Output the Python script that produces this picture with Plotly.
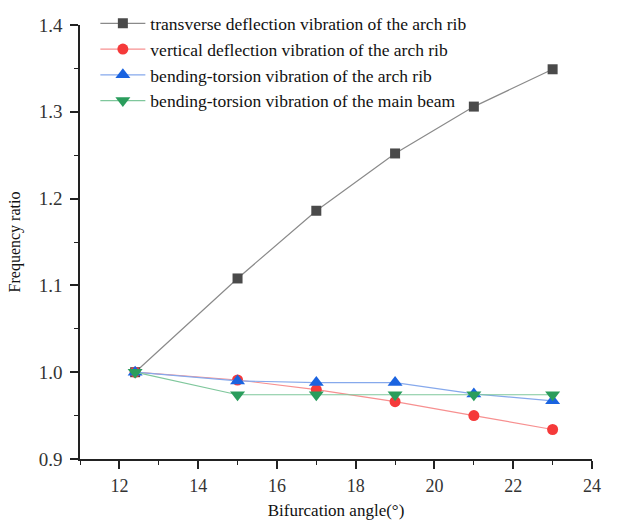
import plotly.graph_objects as go

angles = [12.4, 15, 17, 19, 21, 23]
transverse = [1.000, 1.108, 1.186, 1.252, 1.306, 1.349]
vertical = [1.000, 0.991, 0.980, 0.966, 0.950, 0.934]
bt_arch = [1.000, 0.990, 0.988, 0.988, 0.975, 0.967]
bt_beam = [1.000, 0.974, 0.974, 0.974, 0.974, 0.974]

names = [
    "transverse deflection vibration of the arch rib",
    "vertical deflection vibration of the arch rib",
    "bending-torsion vibration of the arch rib",
    "bending-torsion vibration of the main beam",
]
series = [transverse, vertical, bt_arch, bt_beam]
marker_colors = ["#4a4a4a", "#f53a3a", "#1a63e0", "#2a9d5c"]
line_colors = ["#8a8a8a", "#f79090", "#86a9ec", "#7fc79c"]
symbols = ["square", "circle", "triangle-up", "triangle-down"]
sizes = [10, 11, 13, 13]

fig = go.Figure()
for n, ys, mc, lc, s, sz in zip(names, series, marker_colors, line_colors, symbols, sizes):
    fig.add_trace(go.Scatter(
        x=angles, y=ys, name=n, mode="lines+markers",
        line=dict(color=lc, width=1.2),
        marker=dict(symbol=s, size=sz, color=mc, line=dict(width=0)),
    ))

font_family = "Liberation Serif, Times New Roman, serif"
fig.update_layout(
    width=630, height=520,
    margin=dict(l=80, r=38, t=25, b=61, autoexpand=False),
    plot_bgcolor="white", paper_bgcolor="white",
    font=dict(family=font_family, size=16, color="#222"),
    showlegend=True,
    legend=dict(
        x=0.03, y=1.045, xanchor="left", yanchor="top",
        bgcolor="rgba(0,0,0,0)", font=dict(size=17.5, family=font_family, color="#111"),
        tracegroupgap=0, itemwidth=45,
    ),
    xaxis=dict(
        range=[11, 24], tickmode="linear", tick0=12, dtick=2,
        showline=True, linecolor="#222", linewidth=1.5, mirror=False,
        ticks="outside", ticklen=8, tickwidth=1.5, tickcolor="#222",
        minor=dict(ticks="outside", ticklen=4, tickwidth=1.2, dtick=1, tick0=11, tickcolor="#222"),
        showgrid=False, zeroline=False, automargin=False,
        ticklabelstandoff=2,
        title=dict(text="Bifurcation angle(°)", font=dict(size=17, family=font_family, color="#111"), standoff=16),
        tickfont=dict(size=18, family=font_family, color="#333"),
    ),
    yaxis=dict(
        range=[0.9, 1.4], tickmode="linear", tick0=0.9, dtick=0.1, tickformat=".1f",
        showline=True, linecolor="#222", linewidth=1.5, mirror=False,
        ticks="outside", ticklen=8, tickwidth=1.5, tickcolor="#222",
        minor=dict(ticks="outside", ticklen=4, tickwidth=1.2, dtick=0.05, tickcolor="#222"),
        showgrid=False, zeroline=False, automargin=False,
        ticklabelstandoff=4,
        title=dict(text="Frequency ratio", font=dict(size=16, family=font_family, color="#111"), standoff=14),
        tickfont=dict(size=19, family=font_family, color="#333"),
    ),
)

fig.write_html("out.html")
